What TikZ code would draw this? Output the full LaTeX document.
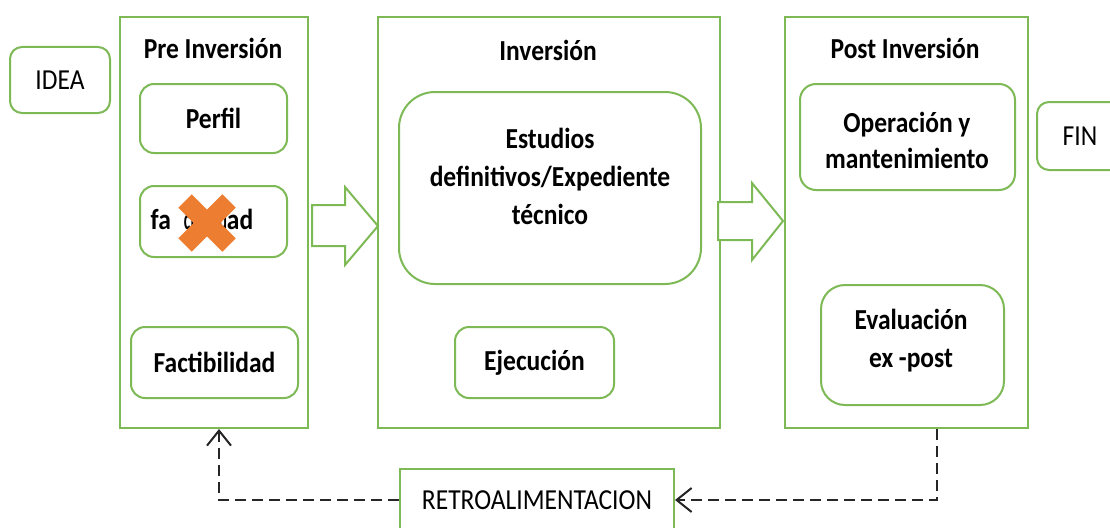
\documentclass[tikz,border=0pt]{standalone}
\usepackage{fontspec}
\setmainfont{Carlito}[FakeStretch=0.88]
\usetikzlibrary{arrows.meta,calc}
\definecolor{gr}{RGB}{125,185,85}
\definecolor{xorange}{RGB}{237,125,49}
\tikzset{
  stage/.style={draw=gr, line width=2pt, fill=white, inner sep=0pt},
  sub/.style={stage, rounded corners=14pt, font=\bfseries\fontsize{29}{38}\selectfont, align=center},
  lbl/.style={font=\bfseries\fontsize{29}{38}\selectfont, align=center, inner sep=0pt},
  plain/.style={stage, rounded corners=12pt, font=\fontsize{29}{30}\selectfont},
  ttl/.style={font=\bfseries\fontsize{29}{30}\selectfont, inner sep=0pt},
  barrow/.style={draw=gr, line width=2pt, fill=white, line join=miter},
  fb/.style={draw=black!85, line width=2.4pt, dash pattern=on 11pt off 6pt, -{Straight Barb[length=15pt,width=24pt,line width=2pt]}},
}
\begin{document}
\begin{tikzpicture}[x=1pt,y=-1pt]
\useasboundingbox (0,0) rectangle (1110,527);
\clip (0,0) rectangle (1110,527);
% main stages
\node[stage, minimum width=188pt, minimum height=411pt] (pre) at (214,222.5) {};
\node[stage, minimum width=342pt, minimum height=411pt] (inv) at (549,222.5) {};
\node[stage, minimum width=243pt, minimum height=411pt] (post) at (906.5,222.5) {};
% titles
\node[ttl] (tpre) at (213,48) {Pre Inversión};
\node[ttl] (tinv) at (548,50) {Inversión};
\node[ttl] (tpost) at (905,48) {Post Inversión};
% idea / fin
\node[plain, minimum width=100pt, minimum height=66pt] (idea) at (60,80) {IDEA};
\node[plain, minimum width=100pt, minimum height=68pt] (fin) at (1087,136) {\hspace*{-14pt}FIN};
% pre inversion items
\node[sub, minimum width=147pt, minimum height=69pt] (perfil) at (213.5,118.5) {Perfil};
\node[sub, minimum width=147pt, minimum height=71pt] (fact1) at (213.5,221.5) {};
\node[lbl] (fact1t) at (202,219) {fa\makebox[56pt][r]{\scalebox{0.6}[1]{ctibilid}}ad};
\draw[xorange, line width=19pt] (185,201) -- (229,245) (229,201) -- (185,245);
\node[sub, minimum width=167pt, minimum height=71pt] (fact2) at (214.5,362.5) {Factibilidad};
% inversion items
\node[sub, rounded corners=36pt, minimum width=302pt, minimum height=192pt] (est) at (550,188) {};
\node[lbl] (estt) at (550,176) {Estudios\\definitivos/Expediente\\técnico};
\node[sub, minimum width=159pt, minimum height=71pt] (ejec) at (534.5,362.5) {Ejecución};
% post inversion items
\node[sub, rounded corners=16pt, minimum width=215pt, minimum height=106pt] (oper) at (907.5,137) {};
\node[lbl, font=\bfseries\fontsize{29}{36}\selectfont] (opert) at (907,140) {Operación y\\mantenimiento};
\node[sub, rounded corners=24pt, minimum width=183pt, minimum height=120pt] (eval) at (912.5,345) {};
\node[lbl] (evalt) at (911,341) {Evaluación\\ex -post};
% block arrows
\draw[barrow] (312,205) -- (345,205) -- (345,187) -- (378,226) -- (345,265) -- (345,246) -- (312,246) -- cycle;
\draw[barrow] (718,202) -- (752,202) -- (752,183) -- (783,221) -- (752,260) -- (752,240) -- (718,240) -- cycle;
% feedback
\node[stage, minimum width=274pt, minimum height=62pt, font=\fontsize{29}{30}\selectfont] (retro) at (537,500) {RETROALIMENTACION};
\coordinate (fb1) at (937,500);
\coordinate (fb2) at (219,500);
\draw[fb] (post.south -| fb1) |- (retro.east);
\draw[fb] (retro.west) -| (pre.south -| fb2);
\end{tikzpicture}
\end{document}
